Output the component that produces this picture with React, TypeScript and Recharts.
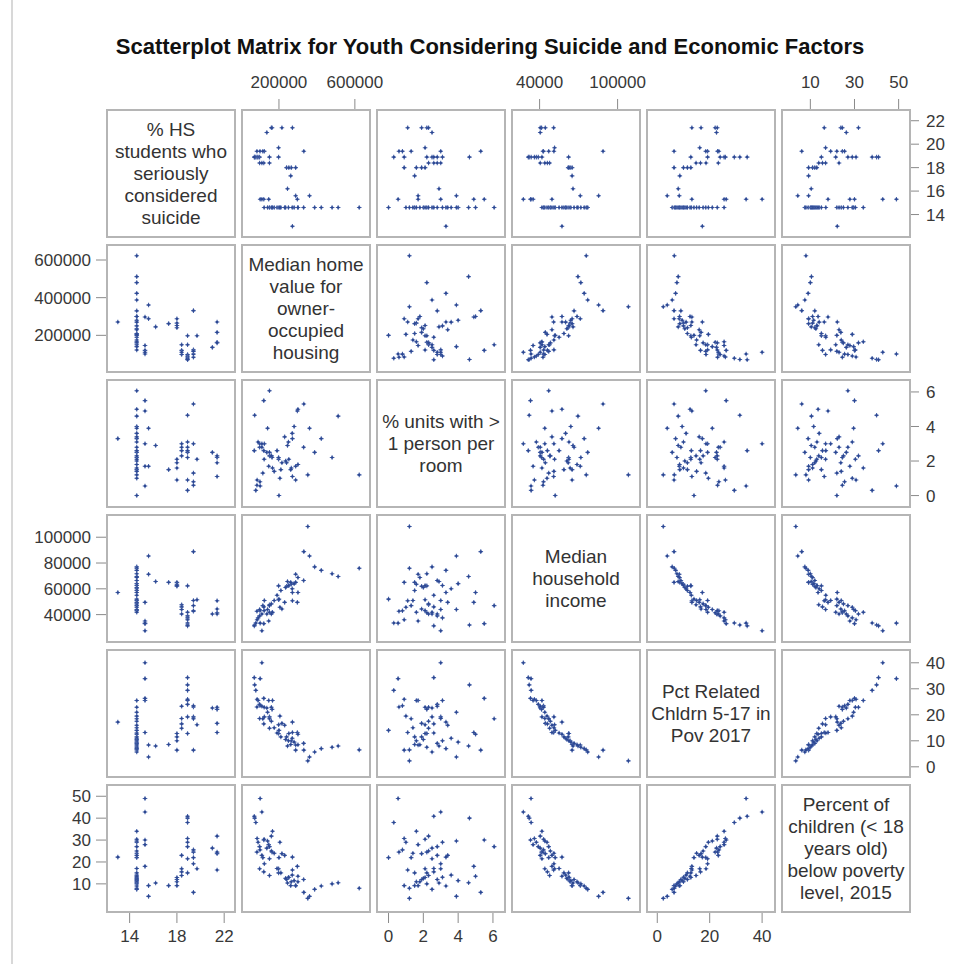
import React from "react";
import { ScatterChart, Scatter, XAxis, YAxis } from "recharts";

// one entry per county; null = not reported
const suicide = [
  21.4, 21.4, 21.4, 21.4, 21.0, 19.7, 19.4, 19.4, 19.4, 19.4, 19.4, 18.9, 18.9, 18.9, 18.9, 18.9, 18.9, 18.9, 18.9, 18.4,
  18.4, 18.4, 18.4, 18.0, 18.0, 18.0, 18.0, 17.3, 16.2, 15.6, 15.6, 15.3, 15.3, 15.3, 15.3, 15.3, 13.0, null,
  14.6, 14.6, 14.6, 14.6, 14.6, 14.6, 14.6, 14.6, 14.6, 14.6, 14.6, 14.6, 14.6, 14.6, 14.6, 14.6, 14.6, 14.6, 14.6, 14.6,
  14.6, 14.6, 14.6,
];
const homeValue = [
  271000, 215600, 163600, 160000, 136000, 198000, 331000, 123000, 84000, 100000, 115000, 198000, 150000, 98000, 90000,
  85000, 78000, 72000, 70000, 150000, 120000, 98000, 110000, 288000, 265000, 240000, 252000, 262000, 245000, 361000,
  288000, 297000, 146000, 120000, 101000, 110000, 271000, 352000,
  388000, 623000, 423000, 480000, 512000, 300000, 330000, 280000, 250000, 235000, 270000, 210000, 300000, 190000,
  200000, 175000, 230000, 160000, 150000, 205000, 140000, 122000, 166000,
];
const crowding = [
  1.1, 1.9, 2.2, 2.3, 2.5, 2.1, 5.3, 3.0, 0.6, 0.8, 1.3, 2.2, 2.5, 2.8, 3.1, 0.9, 0.3, 4.65, 2.6, 2.3,
  2.6, 3.0, 2.8, 0.9, 1.6, 1.9, 2.1, 1.5, 2.9, 3.9, 1.7, 4.9, 1.7, 5.5, 0.55, 3.0, 3.3, 1.2,
  2.5, 1.2, 3.3, 2.2, 4.6, 1.8, 2.8, 4.0, 3.1, 2.0, 3.6, 1.5, 5.0, 2.6, 0.0, 1.4, 3.4, 2.3, 6.07, 1.0,
  3.9, 2.1, 1.6,
];
const income = [
  50800, 44400, 41500, 40500, 40500, 51500, 88800, 51000, 42600, 43000, 47000, 62300, 41800, 39000, 37500, 36000, 33500,
  32000, 31300, 47700, 46000, 44000, 40500, 65000, 63500, 62000, 62500, 65000, 65700, 85400, 71300, 49500, 35000,
  33000, 33400, 27500, 57200, 108300,
  77000, 75900, 74300, 71700, 69500, 68800, 66500, 64000, 62600, 61000, 60000, 58700, 57200, 55000, 52000, 51000,
  49500, 48300, 47000, 45700, 44000, 43100, 41800,
];
const pov2017 = [
  13.2, 16.7, 22.1, 22.9, 22.6, 16.2, 6.4, 19.2, 23.0, 23.5, 18.5, 12.8, 19.2, 24.0, 25.5, 26.0, 29.4, 31.5, 34.3, 14.8,
  16.5, 18.6, 23.3, 6.4, 10.0, 11.5, 12.8, 8.6, 8.0, 3.8, 8.4, 13.2, 25.5, 26.3, 33.9, 40.0, 17.2, 2.3,
  5.7, 6.5, 7.0, 7.5, 8.0, 8.5, 9.0, 9.5, 10.0, 10.5, 11.0, 11.5, 12.5, 13.0, 14.0, 15.0, 16.0, 17.5, 18.5, 19.5,
  21.0, 22.9, 25.5,
];
const pov2015 = [
  16.3, 23.8, 24.5, 31.8, 26.3, 16.9, 6.1, 19.2, 24.5, 25.5, 22.0, 15.0, 21.5, 27.0, 29.0, 30.7, 38.0, 40.0, 40.9, 13.8,
  15.5, 16.9, 23.0, 9.2, 11.0, 12.0, 12.9, 9.2, 10.4, 4.3, 9.2, 18.0, 27.9, 30.0, 49.0, 42.8, 22.2, 3.4,
  7.5, 8.0, 9.0, 10.0, 10.5, 11.0, 12.0, 11.5, 13.0, 12.5, 14.0, 15.0, 13.5, 17.0, 22.0, 24.0, 23.0, 25.0, 27.0, 29.0,
  29.6, 30.4, 34.0,
];

const varLabels = [
  ["% HS", "students who", "seriously", "considered", "suicide"],
  ["Median home", "value for", "owner-", "occupied", "housing"],
  ["% units with >", "1 person per", "room"],
  ["Median", "household", "income"],
  ["Pct Related", "Chldrn 5-17 in", "Pov 2017"],
  ["Percent of", "children (< 18", "years old)", "below poverty", "level, 2015"],
];
const colTicks = [
  [14, 18, 22],
  [200000, 600000],
  [0, 2, 4, 6],
  [40000, 100000],
  [0, 20, 40],
  [10, 30, 50],
];
const rowTicks = [
  [14, 16, 18, 20, 22],
  [200000, 400000, 600000],
  [0, 2, 4, 6],
  [40000, 60000, 80000, 100000],
  [0, 10, 20, 30, 40],
  [10, 20, 30, 40, 50],
];
const domains: [number, number][] = [
  [12, 23],
  [0, 685000],
  [-0.72, 6.75],
  [18000, 118000],
  [-4.3, 45.3],
  [-3.3, 55.6],
];

const vars = [suicide, homeValue, crowding, income, pov2017, pov2015];

const GX = 106;
const GY = 109;
const CW = 130;
const CH = 129;
const STEP = 135;
const FONT = "'Liberation Sans', Arial, Helvetica, sans-serif";
const tickStyle = { fill: "#383838", fontSize: 17, fontFamily: FONT };
const tickLine = { stroke: "#8a8a8a" };

const Plus = (props: any) => {
  const { cx, cy } = props;
  if (cx == null || cy == null) return <g />;
  return (
    <g>
      <path d={`M${cx - 2.3},${cy}H${cx + 2.3}M${cx},${cy - 2.3}V${cy + 2.3}`} stroke="#4a66ad" strokeWidth={1.1} />
      <circle cx={cx} cy={cy} r={1.3} fill="#2c4791" />
    </g>
  );
};

function Cell({ r, c }: { r: number; c: number }) {
  const padTop = r === 0 ? 50 : 0;
  const padBottom = r === 5 ? 50 : 0;
  const padLeft = c === 0 ? 100 : 0;
  const padRight = c === 5 ? 50 : 0;
  const xs = vars[c];
  const ys = vars[r];
  const pts = xs
    .map((x, i) => ({ x, y: ys[i] }))
    .filter((p) => p.x != null && p.y != null);
  const diag = r === c;

  return (
    <div
      style={{
        position: "absolute",
        left: GX + c * STEP - padLeft,
        top: GY + r * STEP - padTop,
      }}
    >
      <ScatterChart
        width={CW + padLeft + padRight}
        height={CH + padTop + padBottom}
        margin={{ top: 0, right: 0, bottom: 0, left: 0 }}
      >
        <XAxis
          xAxisId="top"
          orientation="top"
          type="number"
          dataKey="x"
          domain={domains[c]}
          allowDataOverflow
          ticks={colTicks[c]}
          hide={r !== 0}
          height={padTop}
          axisLine={false}
          tickLine={tickLine}
          tickSize={10}
          tickMargin={11}
          interval={0}
          tick={c % 2 === 1 ? tickStyle : false}
        />
        <XAxis
          xAxisId="bottom"
          orientation="bottom"
          type="number"
          dataKey="x"
          domain={domains[c]}
          allowDataOverflow
          ticks={colTicks[c]}
          hide={r !== 5}
          height={padBottom}
          axisLine={false}
          tickLine={tickLine}
          tickSize={10}
          tickMargin={7}
          interval={0}
          tick={c % 2 === 0 ? tickStyle : false}
        />
        <YAxis
          yAxisId="left"
          orientation="left"
          type="number"
          dataKey="y"
          domain={domains[r]}
          allowDataOverflow
          ticks={rowTicks[r]}
          hide={c !== 0}
          width={padLeft}
          axisLine={false}
          tickLine={tickLine}
          tickSize={10}
          tickMargin={5}
          interval={0}
          tick={r % 2 === 1 ? tickStyle : false}
        />
        <YAxis
          yAxisId="right"
          orientation="right"
          type="number"
          dataKey="y"
          domain={domains[r]}
          allowDataOverflow
          ticks={rowTicks[r]}
          hide={c !== 5}
          width={padRight}
          axisLine={false}
          tickLine={tickLine}
          tickSize={8}
          tickMargin={7}
          interval={0}
          tick={r % 2 === 0 ? tickStyle : false}
        />
        <Scatter
          data={diag ? [] : pts}
          xAxisId="bottom"
          yAxisId="left"
          shape={Plus}
          isAnimationActive={false}
        />
      </ScatterChart>
      <div
        style={{
          position: "absolute",
          left: padLeft,
          top: padTop,
          width: CW,
          height: CH,
          boxSizing: "border-box",
          border: "2px solid #b5b5b5",
          display: "flex",
          alignItems: "center",
          justifyContent: "center",
          textAlign: "center",
          fontFamily: FONT,
          fontSize: 19,
          lineHeight: "22px",
          color: "#333",
          pointerEvents: "none",
        }}
      >
        {diag && (
          <div>
            {varLabels[r].map((l, i) => (
              <div key={i} style={{ whiteSpace: "nowrap" }}>
                {l}
              </div>
            ))}
          </div>
        )}
      </div>
    </div>
  );
}

export default function App() {
  const cells = [];
  for (let r = 0; r < 6; r++) for (let c = 0; c < 6; c++) cells.push(<Cell key={`${r}-${c}`} r={r} c={c} />);
  return (
    <div
      style={{
        position: "absolute",
        left: 0,
        top: 0,
        width: 957,
        height: 964,
        background: "#fff",
        overflow: "hidden",
      }}
    >
      <style>{`.recharts-surface{overflow:visible}`}</style>
      <div style={{ position: "absolute", left: 11, top: 0, width: 2, height: 964, background: "#d8d8d8" }} />
      <div
        style={{
          position: "absolute",
          left: 0,
          top: 34,
          width: 980,
          textAlign: "center",
          fontFamily: FONT,
          fontWeight: "bold",
          fontSize: 22,
          color: "#111",
        }}
      >
        Scatterplot Matrix for Youth Considering Suicide and Economic Factors
      </div>
      {cells}
    </div>
  );
}
